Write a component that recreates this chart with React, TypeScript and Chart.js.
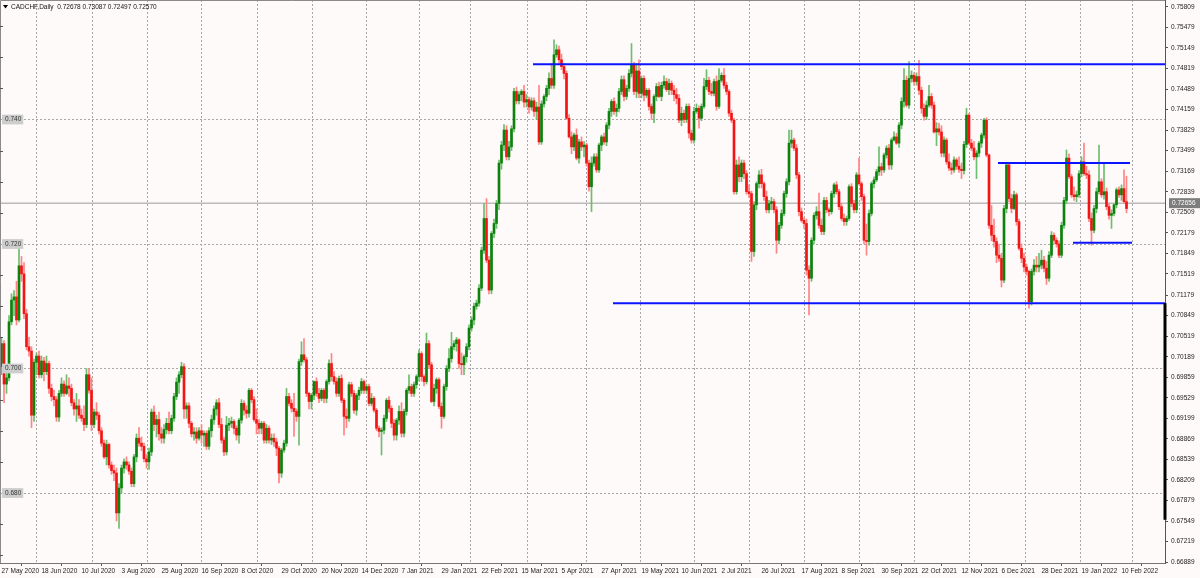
import React, { useEffect, useRef } from 'react';
import { Chart, registerables } from 'chart.js';

Chart.register(...registerables);

// OHLC in pips (price * 10000), one entry per daily bar, oldest first
const opens = [
  7003,7040,6975,6985,7075,7110,7115,7078,7165,7152, 7088,7035,7028,6925,7010,7020,6990,7012,6995,7008,
  6968,6955,6950,6922,6960,6975,6960,6972,6968,6945, 6935,6940,6925,6920,6910,6990,6965,6910,6930,6925,
  6900,6880,6858,6878,6845,6836,6832,6768,6808,6840, 6850,6845,6835,6815,6858,6888,6880,6875,6855,6850,
  6866,6930,6910,6918,6895,6888,6902,6912,6900,6920, 6955,6978,6990,7003,6935,6940,6912,6895,6898,6888,
  6900,6893,6896,6875,6900,6918,6935,6945,6910,6885, 6866,6909,6912,6915,6904,6893,6917,6944,6933,6928,
  6965,6950,6918,6912,6904,6912,6885,6904,6885,6888, 6882,6872,6832,6869,6880,6955,6944,6936,6931,6923,
  7011,7022,7014,6960,6947,6957,6979,6960,6952,6965, 6952,6979,7008,6987,6979,6960,6984,6949,6923,6920,
  6974,6960,6933,6957,6965,6979,6965,6971,6944,6952, 6933,6904,6899,6901,6920,6949,6936,6912,6893,6917,
  6931,6896,6931,6965,6971,6960,6974,6987,7024,6987, 6979,7040,7006,6947,6968,6982,6939,6923,6971,7000,
  7016,7035,7040,7046,7008,7006,7019,7035,7065,7078, 7100,7105,7129,7190,7241,7174,7126,7217,7233,7265,
  7330,7359,7383,7340,7356,7385,7445,7430,7440,7445, 7428,7432,7420,7430,7413,7420,7364,7425,7437,7450,
  7466,7455,7504,7512,7496,7485,7474,7402,7372,7356, 7375,7338,7364,7356,7359,7330,7292,7330,7340,7319,
  7359,7372,7364,7391,7413,7429,7413,7418,7445,7464, 7437,7450,7474,7488,7445,7478,7442,7466,7439,7447,
  7421,7410,7437,7453,7437,7455,7461,7448,7458,7447, 7440,7434,7399,7410,7400,7421,7378,7367,7413,7418,
  7402,7421,7453,7463,7445,7442,7461,7421,7463,7471, 7455,7445,7410,7399,7284,7327,7308,7330,7313,7284,
  7281,7188,7263,7297,7311,7297,7276,7255,7265,7268, 7255,7206,7230,7249,7281,7300,7362,7367,7354,7311,
  7252,7238,7233,7158,7145,7206,7246,7252,7230,7220, 7270,7255,7252,7281,7295,7284,7260,7241,7236,7241,
  7292,7265,7255,7311,7297,7276,7206,7204,7249,7297, 7303,7316,7324,7319,7343,7354,7327,7367,7372,7362,
  7391,7429,7463,7423,7466,7471,7461,7469,7447,7418, 7405,7423,7437,7423,7380,7385,7380,7346,7367,7332,
  7322,7319,7335,7325,7320,7318,7360,7407,7362,7354, 7340,7346,7362,7375,7399,7343,7230,7214,7204,7182,
  7177,7142,7257,7327,7273,7257,7279,7236,7193,7177, 7163,7156,7107,7156,7166,7163,7166,7174,7161,7145,
  7182,7214,7206,7200,7182,7230,7270,7338,7308,7279, 7276,7279,7313,7332,7313,7311,7241,7222,7257,7284,
  7300,7279,7284,7260,7246,7249,7263,7287,7279,7289,7268,
];

const highs = [
  7050,7045,6995,7085,7120,7125,7140,7205,7180,7170, 7095,7050,7035,7015,7025,7028,7020,7018,7020,7012,
  6975,6965,6955,6965,6985,6980,6990,6985,6975,6950, 6960,6950,6935,6940,7000,7000,6985,6935,6945,6930,
  6905,6885,6885,6880,6850,6845,6840,6815,6845,6855, 6858,6850,6840,6862,6895,6905,6890,6880,6862,6872,
  6935,6940,6925,6930,6905,6910,6920,6930,6925,6960, 6985,6995,7010,7008,6945,6945,6915,6905,6905,6905,
  6910,6900,6900,6905,6925,6940,6950,6952,6920,6890, 6923,6920,6922,6918,6908,6920,6950,6948,6940,6968,
  6968,6955,6935,6918,6915,6915,6910,6908,6895,6895, 6888,6875,6872,6885,6968,6960,6950,6960,6935,7015,
  7043,7048,7018,6962,6960,6980,6985,6968,6968,6968, 6982,7014,7024,6995,6985,6988,6990,6952,6935,6978,
  6978,6965,6960,6970,6984,6982,6975,6975,6960,6955, 6936,6908,6905,6925,6952,6955,6940,6918,6920,6940,
  6945,6935,6968,6990,6975,6978,6990,7030,7027,6990, 7057,7045,7010,6975,6985,6985,6945,6975,7005,7032,
  7058,7045,7050,7048,7025,7022,7040,7070,7083,7105, 7110,7135,7195,7265,7273,7180,7220,7240,7270,7335,
  7365,7392,7390,7365,7390,7450,7452,7445,7448,7455, 7440,7436,7435,7435,7428,7455,7430,7440,7455,7475,
  7490,7528,7520,7518,7505,7490,7478,7408,7380,7378, 7385,7368,7372,7365,7362,7335,7340,7345,7345,7362,
  7375,7378,7395,7418,7432,7435,7425,7450,7470,7470, 7455,7480,7522,7492,7490,7496,7470,7470,7450,7450,
  7425,7440,7458,7460,7460,7470,7466,7465,7462,7455, 7450,7440,7420,7415,7425,7425,7383,7420,7425,7422,
  7425,7466,7480,7468,7458,7465,7470,7482,7475,7482, 7460,7448,7415,7402,7335,7340,7335,7335,7318,7295,
  7285,7268,7300,7318,7320,7300,7285,7270,7275,7272, 7260,7235,7255,7285,7305,7383,7383,7370,7360,7315,
  7258,7242,7240,7165,7210,7250,7260,7282,7240,7275, 7275,7258,7285,7298,7300,7288,7265,7248,7245,7295,
  7297,7270,7315,7338,7300,7280,7232,7255,7300,7308, 7320,7356,7330,7346,7358,7360,7370,7380,7378,7395,
  7435,7482,7470,7493,7478,7475,7475,7495,7452,7425, 7430,7455,7442,7428,7395,7394,7390,7372,7370,7345,
  7330,7340,7338,7340,7330,7365,7418,7410,7368,7365, 7350,7365,7378,7402,7403,7345,7262,7240,7210,7200,
  7185,7262,7330,7330,7280,7285,7282,7240,7200,7185, 7168,7158,7160,7175,7180,7185,7190,7180,7172,7188,
  7220,7218,7210,7205,7235,7275,7351,7345,7312,7292, 7285,7318,7340,7362,7325,7318,7250,7262,7290,7359,
  7305,7330,7290,7265,7255,7265,7290,7292,7295,7319,7309,
];

const lows = [
  6990,6945,6960,6980,7070,7085,7070,7075,7140,7080, 7030,7020,6905,6915,6990,6985,6985,6980,6990,6960,
  6948,6940,6915,6915,6955,6955,6958,6955,6940,6925, 6915,6920,6915,6900,6905,6960,6900,6905,6918,6895,
  6875,6855,6845,6840,6830,6820,6755,6743,6800,6832, 6838,6830,6810,6810,6850,6875,6868,6850,6840,6838,
  6860,6900,6890,6885,6880,6880,6895,6895,6895,6915, 6950,6960,6985,6920,6920,6905,6890,6885,6880,6885,
  6880,6875,6870,6870,6890,6910,6925,6905,6880,6860, 6861,6900,6905,6895,6885,6880,6912,6925,6920,6922,
  6945,6915,6895,6895,6895,6880,6880,6880,6878,6875, 6860,6816,6825,6865,6875,6940,6930,6891,6915,6877,
  7005,7010,6955,6935,6935,6950,6955,6945,6948,6945, 6945,6975,6980,6975,6955,6955,6945,6893,6905,6915,
  6955,6928,6925,6950,6960,6960,6960,6940,6940,6930, 6900,6890,6861,6895,6915,6930,6905,6885,6885,6910,
  6890,6890,6925,6960,6955,6955,6968,6980,6980,6972, 6975,7000,6945,6940,6960,6935,6904,6920,6965,6995,
  7010,7030,7028,7000,6990,6990,7010,7030,7060,7070, 7095,7100,7125,7185,7170,7120,7120,7210,7225,7255,
  7320,7350,7335,7335,7350,7380,7425,7425,7430,7420, 7420,7410,7415,7405,7400,7360,7360,7420,7430,7440,
  7450,7450,7500,7490,7480,7465,7400,7370,7345,7350, 7335,7330,7350,7340,7325,7285,7252,7325,7315,7315,
  7350,7360,7358,7385,7405,7408,7405,7412,7440,7430, 7432,7445,7468,7440,7435,7435,7435,7430,7435,7415,
  7400,7395,7430,7435,7430,7450,7445,7440,7440,7430, 7425,7395,7390,7395,7395,7370,7362,7362,7410,7386,
  7398,7418,7448,7440,7438,7438,7415,7418,7460,7450, 7440,7405,7395,7280,7280,7300,7300,7305,7280,7275,
  7172,7180,7255,7290,7290,7270,7250,7250,7255,7250, 7185,7200,7225,7245,7275,7295,7355,7350,7305,7245,
  7235,7225,7150,7086,7140,7200,7240,7225,7215,7215, 7250,7245,7248,7275,7280,7255,7238,7230,7230,7238,
  7260,7250,7250,7295,7270,7200,7182,7198,7245,7290, 7300,7310,7310,7315,7338,7320,7320,7365,7360,7355,
  7385,7420,7420,7418,7460,7455,7455,7440,7410,7399, 7400,7420,7418,7378,7358,7375,7340,7340,7328,7318,
  7312,7315,7320,7315,7305,7312,7355,7360,7350,7335, 7305,7340,7355,7370,7340,7225,7205,7195,7170,7172,
  7131,7138,7250,7268,7250,7255,7230,7190,7170,7155, 7150,7097,7102,7150,7155,7155,7160,7155,7135,7140,
  7178,7200,7195,7178,7178,7225,7265,7305,7275,7270, 7268,7275,7308,7310,7305,7236,7198,7218,7250,7280,
  7275,7272,7255,7240,7225,7245,7258,7275,7270,7265,7250,
];

const closes = [
  7040,6975,6985,7075,7110,7115,7078,7165,7152,7088, 7035,7028,6925,7010,7020,6990,7012,6995,7008,6968,
  6955,6950,6922,6960,6975,6960,6972,6968,6945,6935, 6940,6925,6920,6910,6990,6965,6910,6930,6925,6900,
  6880,6858,6878,6845,6836,6832,6768,6808,6840,6850, 6845,6835,6815,6858,6888,6880,6875,6855,6850,6866,
  6930,6910,6918,6895,6888,6902,6912,6900,6920,6955, 6978,6990,7003,6935,6940,6912,6895,6898,6888,6900,
  6893,6896,6875,6900,6918,6935,6945,6910,6885,6866, 6909,6912,6915,6904,6893,6917,6944,6933,6928,6965,
  6950,6918,6912,6904,6912,6885,6904,6885,6888,6882, 6872,6832,6869,6880,6955,6944,6936,6931,6923,7011,
  7022,7014,6960,6947,6957,6979,6960,6952,6965,6952, 6979,7008,6987,6979,6960,6984,6949,6923,6920,6974,
  6960,6933,6957,6965,6979,6965,6971,6944,6952,6933, 6904,6899,6901,6920,6949,6936,6912,6893,6917,6931,
  6896,6931,6965,6971,6960,6974,6987,7024,6987,6979, 7040,7006,6947,6968,6982,6939,6923,6971,7000,7016,
  7035,7040,7046,7008,7006,7019,7035,7065,7078,7100, 7105,7129,7190,7241,7174,7126,7217,7233,7265,7330,
  7359,7383,7340,7356,7385,7445,7430,7440,7445,7428, 7432,7420,7430,7413,7420,7364,7425,7437,7450,7466,
  7455,7504,7512,7496,7485,7474,7402,7372,7356,7375, 7338,7364,7356,7359,7330,7292,7330,7340,7319,7359,
  7372,7364,7391,7413,7429,7413,7418,7445,7464,7437, 7450,7474,7488,7445,7478,7442,7466,7439,7447,7421,
  7410,7437,7453,7437,7455,7461,7448,7458,7447,7440, 7434,7399,7410,7400,7421,7378,7367,7413,7418,7402,
  7421,7453,7463,7445,7442,7461,7421,7463,7471,7455, 7445,7410,7399,7284,7327,7308,7330,7313,7284,7281,
  7188,7263,7297,7311,7297,7276,7255,7265,7268,7255, 7206,7230,7249,7281,7300,7362,7367,7354,7311,7252,
  7238,7233,7158,7145,7206,7246,7252,7230,7220,7270, 7255,7252,7281,7295,7284,7260,7241,7236,7241,7292,
  7265,7255,7311,7297,7276,7206,7204,7249,7297,7303, 7316,7324,7319,7343,7354,7327,7367,7372,7362,7391,
  7429,7463,7423,7466,7471,7461,7469,7447,7418,7405, 7423,7437,7423,7380,7385,7380,7346,7367,7332,7322,
  7319,7335,7325,7320,7318,7360,7407,7362,7354,7340, 7346,7362,7375,7399,7343,7230,7214,7204,7182,7177,
  7142,7257,7327,7273,7257,7279,7236,7193,7177,7163, 7156,7107,7156,7166,7163,7166,7174,7161,7145,7182,
  7214,7206,7200,7182,7230,7270,7338,7308,7279,7276, 7279,7313,7332,7313,7311,7241,7222,7257,7284,7300,
  7279,7284,7260,7246,7249,7263,7287,7279,7289,7268,7257,
];
const PIP = 10000;

// x-axis date labels, one every 16 bars starting at bar 0
const dateLabels = [
  '27 May 2020', '18 Jun 2020', '10 Jul 2020', '3 Aug 2020', '25 Aug 2020', '16 Sep 2020',
  '8 Oct 2020', '29 Oct 2020', '20 Nov 2020', '14 Dec 2020', '7 Jan 2021', '29 Jan 2021',
  '22 Feb 2021', '15 Mar 2021', '5 Apr 2021', '27 Apr 2021', '19 May 2021', '10 Jun 2021',
  '2 Jul 2021', '26 Jul 2021', '17 Aug 2021', '8 Sep 2021', '30 Sep 2021', '22 Oct 2021',
  '12 Nov 2021', '6 Dec 2021', '28 Dec 2021', '19 Jan 2022', '10 Feb 2022',
];
const barsPerDateLabel = 16;
// bar index of the first bar of each month (vertical grid)
const monthStartBars = [3, 25, 48, 69, 91, 114, 135, 157, 177, 198, 223, 245, 266, 288, 310, 332, 354, 376, 398, 421, 442];

// right price axis labels
const priceTickLabels = [
  '0.66889', '0.67219', '0.67549', '0.67879', '0.68209', '0.68539', '0.68869', '0.69199',
  '0.69529', '0.69859', '0.70189', '0.70519', '0.70849', '0.71179', '0.71519', '0.71849',
  '0.72179', '0.72509', '0.72839', '0.73169', '0.73499', '0.73829', '0.74159', '0.74489',
  '0.74819', '0.75149', '0.75479', '0.75809',
];
const gridLevels = [0.68, 0.7, 0.72, 0.74];
const minorLevelStep = 0.005;

// horizontal support / resistance lines (price, from bar, to bar)
const lineLevels = [0.74886, 0.7105, 0.733, 0.7202];
const lineFromBar = [212.6, 244.6, 398.6, 428.6];
const lineToBar = [465.4, 465.4, 451.4, 452.2];

const bidPrice = 0.72656;
const bidLabel = '0.72656';
const titleText = 'CADCHF,Daily  0.72678 0.73087 0.72497 0.72570';
const scrollMarkRange = [0.7105, 0.6757];

const X_MIN = -0.6;
const X_MAX = 465.4;
const Y_MIN = 0.668755;
const Y_MAX = 0.759197;

const FONT = 'Liberation Sans, Arial, sans-serif';

export default function App() {
  const ref = useRef<HTMLCanvasElement | null>(null);

  useEffect(() => {
    if (!ref.current) return;
    const idx = closes.map((_, i) => i);
    const up = idx.map((i) => closes[i] >= opens[i]);
    const wickData = idx.map((i) => ({ x: i, y: [lows[i] / PIP, highs[i] / PIP] }));
    const bodyData = idx.map((i) => ({ x: i, y: [opens[i] / PIP, closes[i] / PIP] }));

    const lineSets: any[] = lineLevels.map((lv, k) => ({
      type: 'line',
      data: [{ x: lineFromBar[k], y: lv }, { x: lineToBar[k], y: lv }],
      borderColor: '#0a14ff',
      borderWidth: 2,
      pointRadius: 0,
      order: 0,
      xAxisID: 'x',
      yAxisID: 'y',
    }));

    const decor = {
      id: 'decor',
      beforeDraw(chart: any) {
        const { ctx, width, height } = chart;
        ctx.save();
        ctx.fillStyle = '#fffafa';
        ctx.fillRect(0, 0, width, height);
        ctx.restore();
      },
      afterDraw(chart: any) {
        const { ctx, chartArea: a, scales } = chart;
        const ys = scales.y;
        ctx.save();
        // frame left / top
        ctx.strokeStyle = '#8a8a8a';
        ctx.lineWidth = 1;
        ctx.beginPath();
        ctx.moveTo(a.left + 0.5, a.bottom);
        ctx.lineTo(a.left + 0.5, a.top + 0.5);
        ctx.lineTo(a.right, a.top + 0.5);
        ctx.stroke();
        // small ticks on left edge
        ctx.strokeStyle = '#555';
        ctx.beginPath();
        for (let k = Math.ceil(Y_MIN / minorLevelStep); k * minorLevelStep <= Y_MAX; k++) {
          const v = k * minorLevelStep;
          if (gridLevels.some((g) => Math.abs(g - v) < 1e-6)) continue;
          const py = Math.round(ys.getPixelForValue(v)) + 0.5;
          ctx.moveTo(a.left, py);
          ctx.lineTo(a.left + 3, py);
        }
        ctx.stroke();
        // thick mark on right border
        ctx.strokeStyle = '#000';
        ctx.lineWidth = 3;
        ctx.beginPath();
        ctx.moveTo(a.right, ys.getPixelForValue(scrollMarkRange[0]));
        ctx.lineTo(a.right, ys.getPixelForValue(scrollMarkRange[1]));
        ctx.stroke();
        // bid label
        const by = ys.getPixelForValue(bidPrice);
        ctx.fillStyle = '#7d7d7d';
        ctx.fillRect(a.right + 4, by - 5, 31, 10);
        ctx.fillStyle = '#ffffff';
        ctx.font = `6.5px ${FONT}`;
        ctx.textBaseline = 'middle';
        ctx.textAlign = 'left';
        ctx.fillText(bidLabel, a.right + 7, by + 0.5);
        // title
        ctx.fillStyle = '#000';
        ctx.beginPath();
        ctx.moveTo(a.left + 3, a.top + 5);
        ctx.lineTo(a.left + 8, a.top + 5);
        ctx.lineTo(a.left + 5.5, a.top + 8.5);
        ctx.closePath();
        ctx.fill();
        ctx.font = `6.5px ${FONT}`;
        ctx.fillStyle = '#111';
        ctx.fillText(titleText, a.left + 11, a.top + 7);
        ctx.restore();
      },
    };

    const chart = new Chart(ref.current, {
      type: 'bar',
      data: {
        datasets: [
          ...lineSets,
          {
            type: 'bar',
            data: bodyData as any,
            backgroundColor: up.map((u) => (u ? '#0c820c' : '#f41414')),
            barThickness: 2,
            minBarLength: 1,
            grouped: false,
            order: 1,
            xAxisID: 'x',
            yAxisID: 'y',
          },
          {
            type: 'bar',
            data: wickData as any,
            backgroundColor: up.map((u) => (u ? '#6fbd6f' : '#ff8585')),
            barThickness: 1,
            grouped: false,
            order: 2,
            xAxisID: 'x',
            yAxisID: 'y',
          },
          {
            type: 'line',
            data: [{ x: X_MIN, y: bidPrice }, { x: X_MAX, y: bidPrice }],
            borderColor: '#9a9a9a',
            borderWidth: 1,
            pointRadius: 0,
            order: 3,
            xAxisID: 'x',
            yAxisID: 'y',
          } as any,
        ],
      },
      options: {
        animation: false,
        responsive: true,
        maintainAspectRatio: false,
        events: [],
        layout: { padding: 0, autoPadding: false } as any,
        plugins: { legend: { display: false }, tooltip: { enabled: false }, title: { display: false } },
        scales: {
          x: {
            type: 'linear',
            position: 'bottom',
            min: X_MIN,
            max: X_MAX,
            offset: false,
            afterBuildTicks: (s: any) => {
              s.ticks = dateLabels.map((_, k) => ({ value: k * barsPerDateLabel }));
            },
            afterFit: (s: any) => {
              s.height = 15;
              s.paddingLeft = 0;
              s.paddingRight = 0;
            },
            ticks: {
              autoSkip: false,
              maxRotation: 0,
              minRotation: 0,
              align: 'start',
              padding: 1,
              color: '#222',
              font: { family: FONT, size: 6.5 },
              callback: (_v: any, i: number) => dateLabels[i],
            },
            grid: { drawOnChartArea: false, drawTicks: true, tickLength: 3, color: '#555' },
            border: { display: true, color: '#777' },
          },
          xg: {
            type: 'linear',
            position: 'bottom',
            min: X_MIN,
            max: X_MAX,
            offset: false,
            afterBuildTicks: (s: any) => {
              s.ticks = monthStartBars.map((v) => ({ value: v }));
            },
            afterFit: (s: any) => {
              s.height = 0;
              s.paddingLeft = 0;
              s.paddingRight = 0;
            },
            ticks: { display: false },
            grid: { drawTicks: false, color: '#a6a6a6', lineWidth: 1 },
            border: { display: false, dash: [2, 2] },
          },
          y: {
            type: 'linear',
            position: 'right',
            min: Y_MIN,
            max: Y_MAX,
            afterBuildTicks: (s: any) => {
              s.ticks = priceTickLabels.map((t) => ({ value: parseFloat(t) }));
            },
            afterFit: (s: any) => {
              s.width = 35;
              s.paddingTop = 0;
              s.paddingBottom = 0;
            },
            ticks: {
              autoSkip: false,
              padding: 3,
              color: '#222',
              font: { family: FONT, size: 6.5 },
              callback: (_v: any, i: number) => priceTickLabels[i],
            },
            grid: { drawOnChartArea: false, drawTicks: true, tickLength: 3, color: '#555' },
            border: { display: true, color: '#555' },
          },
          yg: {
            type: 'linear',
            position: 'left',
            min: Y_MIN,
            max: Y_MAX,
            afterBuildTicks: (s: any) => {
              s.ticks = gridLevels.map((v) => ({ value: v }));
            },
            afterFit: (s: any) => {
              s.width = 0;
              s.paddingTop = 0;
              s.paddingBottom = 0;
            },
            ticks: {
              autoSkip: false,
              mirror: true,
              padding: 5,
              z: 1,
              color: '#333',
              font: { family: FONT, size: 6.5 },
              showLabelBackdrop: true,
              backdropColor: '#cdcdcd',
              backdropPadding: { top: 1, bottom: 1, left: 3, right: 2 },
              callback: (v: any) => Number(v).toFixed(3),
            } as any,
            grid: { drawTicks: false, color: '#a6a6a6', lineWidth: 1, z: -1 } as any,
            border: { display: false, dash: [2, 2] },
          },
        } as any,
      },
      plugins: [decor],
    });
    return () => chart.destroy();
  }, []);

  return (
    <div style={{ position: 'fixed', left: 0, top: 0, width: 1200, height: 578, background: '#fffafa' }}>
      <canvas ref={ref} />
    </div>
  );
}
